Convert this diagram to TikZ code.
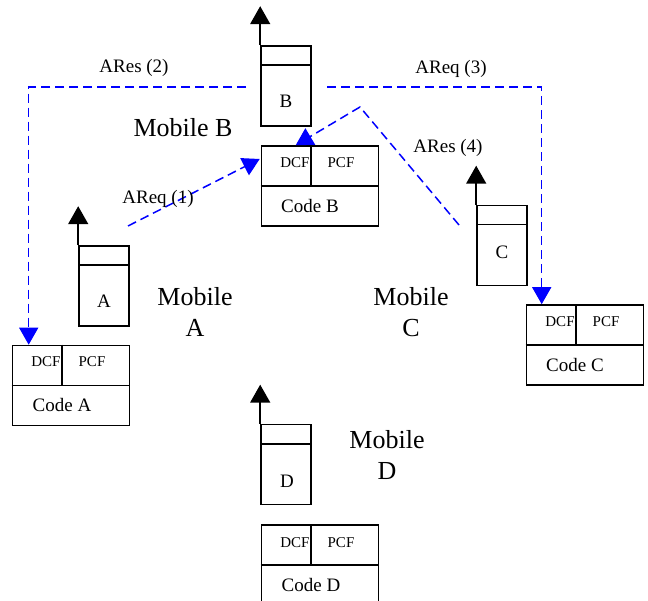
\documentclass[tikz,border=0pt]{standalone}
\usepackage{fontspec}
\setmainfont{Liberation Serif}
\usetikzlibrary{arrows.meta}
\begin{document}
\begin{tikzpicture}[x=1pt,y=-1pt,
 phone/.style={draw, line width=1.6pt, minimum width=50pt, minimum height=80pt, inner sep=0pt},
 codebox/.style={draw, line width=1.6pt, minimum width=117pt, minimum height=80pt, inner sep=0pt},
 divider/.style={line width=1.6pt},
 antenna/.style={line width=1.6pt, -{Triangle[width=20pt,length=18pt]}},
 msg/.style={blue, line width=1.5pt, dash pattern=on 9pt off 5pt, -{Triangle[width=19pt,length=17pt]}},
 lbl/.style={font=\fontsize{19}{22}\selectfont, anchor=base, inner sep=0pt},
 small/.style={font=\fontsize{15}{17}\selectfont, anchor=base, inner sep=0pt},
 big/.style={font=\fontsize{26}{31}\selectfont, align=center, inner sep=0pt},
]
\useasboundingbox (0,0) rectangle (648,601);
\clip (0,0) rectangle (648,601);

% phones
\node[phone] (phB) at (286,86) {};
\node[phone] (phA) at (104,286) {};
\node[phone] (phC) at (502,245.5) {};
\node[phone] (phD) at (286,464.5) {};
\foreach \p in {phA,phB,phC,phD}{
  \draw[divider] ([yshift=-20pt]\p.north west) -- ([yshift=-20pt]\p.north east);
  \draw[antenna] (\p.north west) -- ++(0,-39);
}
\node[lbl] (tB) at (286,108) {B};
\node[lbl] (tA) at (104,308) {A};
\node[lbl] (tC) at (502,259) {C};
\node[lbl] (tD) at (287,487) {D};

% code boxes
\node[codebox] (cA) at (71,385.5) {};
\node[codebox] (cB) at (320,186) {};
\node[codebox] (cC) at (585,345) {};
\node[codebox] (cD) at (320,565) {};
\foreach \c in {cA,cB,cC,cD}{
  \draw[divider] (\c.west) -- (\c.east);
  \draw[divider] ([xshift=50pt]\c.north west) -- ([xshift=50pt]\c.west);
}
\node[small] (dA) at (46,367) {DCF};
\node[small] (pA) at (92,367) {PCF};
\node[lbl] (kA) at (62,412) {Code A};
\node[small] (dB) at (295,168) {DCF};
\node[small] (pB) at (341,168) {PCF};
\node[lbl] (kB) at (310,213) {Code B};
\node[small] (dC) at (560,327) {DCF};
\node[small] (pC) at (606,327) {PCF};
\node[lbl] (kC) at (575,372) {Code C};
\node[small] (dD) at (295,547) {DCF};
\node[small] (pD) at (341,547) {PCF};
\node[lbl] (kD) at (311,591) {Code D};

% mobile labels
\node[big, anchor=base] (mB) at (183,137) {Mobile B};
\node[big, anchor=north] (mA) at (195,287) {Mobile\\A};
\node[big, anchor=north] (mC) at (411,287) {Mobile\\C};
\node[big, anchor=north] (mD) at (387,430) {Mobile\\D};

% messages
\coordinate (s1) at (128,226);
\coordinate (s2) at (246,87);
\coordinate (s3) at (327,87);
\coordinate (s4) at (459,225);
\coordinate (k4) at (360,107);
\draw[msg] (s1) -- ([xshift=-1pt,yshift=27pt]cB.west);
\draw[msg] (s2) -| ([xshift=17pt]cA.north west);
\draw[msg] (s3) -| ([xshift=16pt]cC.north west);
\draw[msg] (s4) -- (k4) -- ([xshift=35pt]cB.north west);

\node[lbl] (l1) at (158,204) {AReq (1)};
\node[lbl] (l2) at (134,73) {ARes (2)};
\node[lbl] (l3) at (451,74) {AReq (3)};
\node[lbl] (l4) at (448,153) {ARes (4)};
\end{tikzpicture}
\end{document}
